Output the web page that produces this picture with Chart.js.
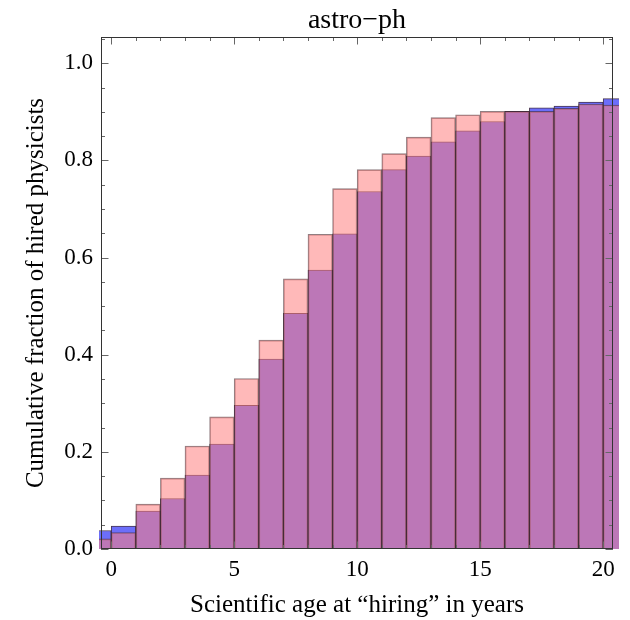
<!DOCTYPE html>
<html><head><meta charset="utf-8">
<script src="https://cdn.jsdelivr.net/npm/chart.js@4/dist/chart.umd.min.js"></script>
<style>html,body{margin:0;padding:0;background:#fff}canvas{display:block}</style>
</head><body>
<canvas id="c" width="630" height="620"></canvas>
<script>
// Bin start (years) of each unit-width bin
const binStarts = [-1,0,1,2,3,4,5,6,7,8,9,10,11,12,13,14,15,16,17,18,19,20];
// Blue series (cumulative fraction)
const seriesBlue = [0.038,0.047,0.078,0.104,0.152,0.216,0.296,0.391,0.485,0.574,0.649,0.736,0.781,0.809,0.838,0.861,0.880,0.901,0.908,0.912,0.920,0.927];
// Pink series (cumulative fraction)
const seriesPink = [0.021,0.034,0.0925,0.146,0.212,0.272,0.351,0.430,0.556,0.648,0.742,0.781,0.814,0.848,0.888,0.894,0.901,0.901,0.901,0.907,0.916,0.914];
const xTickLabels = [0,5,10,15,20];
const yTickLabels = [0.0,0.2,0.4,0.6,0.8,1.0];

const FONT = "'Liberation Serif','Times New Roman',serif";

function toPoints(vals){ return binStarts.map((b,i)=>({x:b+0.5, y:vals[i]})); }
function isMajor(v, list){ return list.some(m=>Math.abs(m-v)<1e-6); }

const framePlugin = {
  id:'frame',
  afterDraw(chart){
    const {ctx, chartArea:a, scales:{x,y}} = chart;
    ctx.save();
    ctx.lineWidth = 1;
    ctx.strokeStyle = '#666';
    const line=(x1,y1,x2,y2)=>{ctx.beginPath();ctx.moveTo(x1,y1);ctx.lineTo(x2,y2);ctx.stroke();};
    x.ticks.forEach(t=>{
      const px = Math.round(x.getPixelForValue(t.value))+0.5;
      const L = isMajor(t.value,xTickLabels)?7.5:4;
      line(px,a.bottom,px,a.bottom-L);
      line(px,a.top,px,a.top+L);
    });
    y.ticks.forEach(t=>{
      const py = Math.round(y.getPixelForValue(t.value))+0.5;
      const L = isMajor(t.value,yTickLabels)?7.5:4;
      line(a.left,py,a.left+L,py);
      line(a.right,py,a.right-L,py);
    });
    ctx.strokeStyle = '#333';
    ctx.strokeRect(a.left+0.5, a.top+0.5, a.right-a.left-1, a.bottom-a.top-1);
    ctx.restore();
  }
};

new Chart(document.getElementById('c'), {
  type:'bar',
  data:{
    datasets:[
      { label:'pink', data:toPoints(seriesPink), order:0, grouped:false,
        backgroundColor:'rgba(255,128,128,0.55)', borderColor:'rgba(70,40,45,0.6)', borderWidth:1,
        barPercentage:1, categoryPercentage:1, clip:{left:2,top:0,right:6,bottom:0} },
      { label:'blue', data:toPoints(seriesBlue), order:1, grouped:false,
        backgroundColor:'rgb(108,110,250)', borderColor:'rgba(40,20,50,0.85)', borderWidth:1,
        barPercentage:1, categoryPercentage:1, clip:{left:2,top:0,right:6,bottom:0} }
    ]
  },
  options:{
    responsive:false, devicePixelRatio:1, animation:false,
    layout:{padding:{left:0,right:17,top:0,bottom:0}},
    plugins:{ legend:{display:false}, tooltip:{enabled:false}, title:{display:false} },
    scales:{
      x:{type:'linear', min:-0.415, max:20.40, offset:false,
        grid:{display:false, drawTicks:false}, border:{display:false},
        afterFit(s){ s.height = 71; },
        ticks:{stepSize:1, autoSkip:false, maxRotation:0, includeBounds:false, padding:7, color:'#000',
          font:{family:FONT,size:23},
          callback:(v)=> isMajor(v,xTickLabels)? String(Math.round(v)) : ''},
        title:{display:true, text:'Scientific age at \u201chiring\u201d in years', color:'#000',
          font:{family:FONT,size:25}, padding:{top:0,bottom:0}}
      },
      xTop:{type:'linear', axis:'x', position:'top', min:-0.415, max:20.40, offset:false,
        grid:{display:false, drawTicks:false}, border:{display:false},
        afterFit(s){ s.height = 37; },
        ticks:{display:false},
        title:{display:true, text:'astro\u2212ph', color:'#000',
          font:{family:FONT,size:28}, padding:{top:4,bottom:0}}
      },
      y:{type:'linear', min:0, max:1.054,
        grid:{display:false, drawTicks:false}, border:{display:false},
        afterFit(s){ s.width = 101; },
        ticks:{stepSize:0.05, autoSkip:false, includeBounds:false, padding:8, color:'#000',
          font:{family:FONT,size:23},
          callback:(v)=> isMajor(v,yTickLabels)? v.toFixed(1) : ''},
        title:{display:true, text:'Cumulative fraction of hired physicists', color:'#000',
          font:{family:FONT,size:25}, padding:{top:21,bottom:0}}
      }
    }
  },
  plugins:[framePlugin]
});
</script>
</body></html>
